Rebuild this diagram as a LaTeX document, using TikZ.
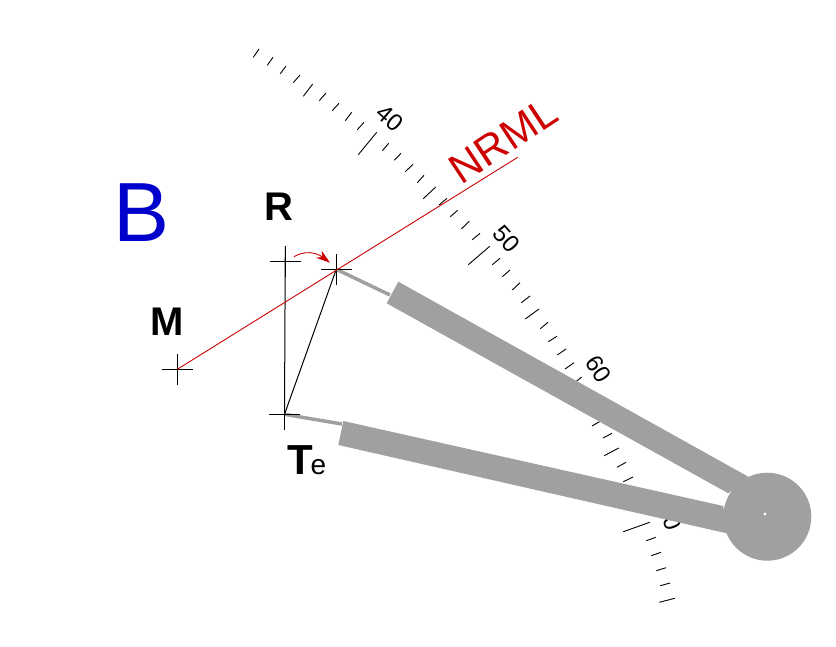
\documentclass[tikz,border=0pt]{standalone}
\usepackage{fontspec}
\setmainfont{Liberation Sans}
\usetikzlibrary{arrows.meta}
\definecolor{armgray}{HTML}{A0A0A0}
\definecolor{nrmlred}{HTML}{CC0000}
\definecolor{bblue}{HTML}{0000CC}
\newcommand{\fs}[1]{\fontsize{#1}{#1}\selectfont}
\tikzset{
  thinline/.style={black,line width=1pt},
  tick/.style={black,line width=0.9pt},
  redline/.style={nrmlred,line width=0.9pt},
  armfill/.style={fill=armgray,draw=none},
  lab/.style={inner sep=0pt,outer sep=0pt},
  pointlabel/.style={lab,font=\fs{40}\bfseries},
  scalelabel/.style={lab,font=\fs{24}},
}
\begin{document}
\begin{tikzpicture}[x=1pt,y=-1pt]
\useasboundingbox (0,0) rectangle (836,646);
% scale ticks
\foreach \a/\b/\c/\d in {
253.3/57.3/259/49, 267.3/65.3/273/57.3, 280.3/73.7/286/66, 293.3/82.7/300/75,
303.3/96.3/312.7/84, 319.3/100.7/326/93, 332.3/110.7/339/103.3, 345.3/120.7/351.7/112.3,
357.3/129.7/364/122.3, 358.3/154.7/376.7/132.3, 382.3/150.7/388.7/143.3, 394.3/160.3/401/153.3,
405.3/171.7/413/164.3, 417.3/182.7/424/175.3, 423.3/198.7/435.7/187, 439/205/447/198.3,
450.3/216.7/457.7/210.3, 461.3/229/469.3/221.3, 472.3/239.7/480/233.3, 468.3/264.7/489.7/246.3,
492.3/264.7/500/258.3, 502.3/276.7/510/270, 512.3/290/520/282.7, 521.3/302.7/530/296,
525.3/319/539/309, 540.3/328.7/548/322.3, 548.3/341.7/557/336.3, 557.3/355/566/349,
565/369/574/362.7, 568/388/581.7/377, 576/395/585/389, 584/410/593/405, 592/426/600.7/421,
603/438/612/433.3, 604.3/455.7/618.7/448, 617/467.3/626/462.3, 623.3/481.7/633/477,
629/496/639/492, 634/511/643/507, 623.3/531.7/649.7/522.3, 646.3/540.7/655.7/537.3,
651.3/555.7/661/552.3, 656.3/570.7/666/567.7, 660.3/585.7/670/583, 659.3/602.3/674.7/598.3}
  {\draw[tick] (\a,\b) -- (\c,\d);}
% scale numbers
\node[scalelabel,rotate=-41] (n40) at (390,118.5) {40};
\node[scalelabel,rotate=-48] (n50) at (506.7,239) {50};
\node[scalelabel,rotate=-57] (n60) at (598.3,369.3) {60};
\node[scalelabel,rotate=-70] (n70) at (670,517) {70};
% instrument arms
\filldraw[armfill] (398.3,281.7) -- (748.3,476.7) -- (728.3,493.3) -- (386.7,303.3) -- cycle;
\filldraw[armfill] (343.3,421) -- (723.3,506) -- (726.7,533.3) -- (338.3,445) -- cycle;
\fill[armgray] (767.3,516.7) circle[radius=44];
\fill[white] (765,514) circle[radius=1.6];
% points
\coordinate (M) at (177.3,369.3);
\coordinate (R) at (285.5,261);
\coordinate (P) at (336.3,269.3);
\coordinate (T) at (284.5,414.3);
\coordinate (U) at (390,295);
\coordinate (L) at (342,424);
\coordinate (E) at (517.7,157.3);
\coordinate (Rtop) at (285.3,246);
\coordinate (A0) at (294,256.7);
\coordinate (A1) at (330,262.7);
% thin arm tips
\draw[armgray,line width=3.5pt] (P) -- (U);
\draw[armgray,line width=3.5pt] (T) -- (L);
% black lines
\draw[thinline] (Rtop) -- (T);
\draw[thinline] (P) -- (T);
% crosses
\foreach \p in {M,R,P,T}
  \draw[thinline] ([xshift=-15.5pt]\p) -- ([xshift=15.5pt]\p) ([yshift=-15.5pt]\p) -- ([yshift=15.5pt]\p);
% normal line and arrow
\draw[redline] (M) -- (E);
\draw[redline,-{Stealth[length=14pt,width=9pt]}] (A0) .. controls (304,250.5) and (316,252) .. (A1);
% labels
\node[lab,text=bblue,font=\fs{84}] (B) at (141.5,213) {B};
\node[pointlabel] (lR) at (279,207) {R};
\node[pointlabel] (lM) at (166.7,321.7) {M};
\node[lab,anchor=base west] (lT) at (287.5,474) {\fs{42}\bfseries T\hspace{-2.5pt}\fs{28}\mdseries e};
\node[lab,text=nrmlred,font=\fs{42},rotate=33.5] (nrml) at (503.3,140.5) {NRML};
\end{tikzpicture}
\end{document}
